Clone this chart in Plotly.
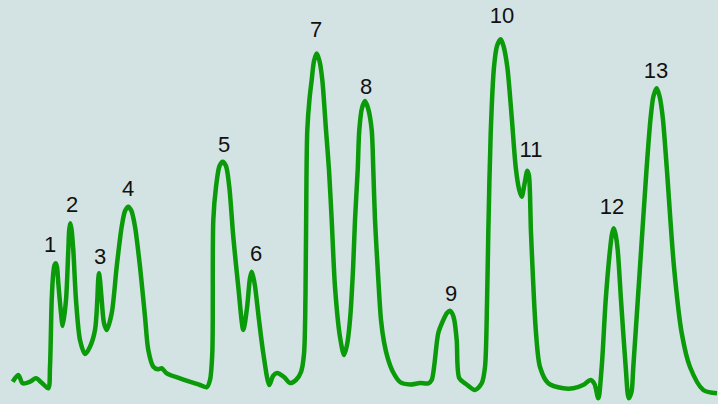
import plotly.graph_objects as go

# Chromatogram trace (retention position, detector signal)
time = [12.7, 18.3, 22.7, 30, 36, 41.7, 48.3, 50, 51.7, 53.3, 54.5, 55.7, 57, 58.3, 60.7, 62.7,
        66, 68.3, 69.3, 70.3, 71.5, 73.3, 76, 80, 85, 90, 95, 97.3, 98.2, 99, 100, 101.7, 104, 106.7,
        111.7, 116.7, 121.7, 125, 128.3, 131.5, 135, 140, 145, 148.3, 153.3, 158.3, 161.7, 166.7, 180, 200, 206.7, 210,
        212.3, 213.3, 216, 219.5, 222.7, 226, 229.3, 233.3, 238.3, 243.3, 247, 250, 251.7, 253.5, 255, 259, 263.3, 269.3,
        273, 277, 284, 290, 296, 301, 304, 305.5, 306.5, 307.3, 309.5, 311.7, 314, 316.7, 319.5, 322.3,
        326, 329, 331.7, 335, 340, 344, 347, 350, 353, 355, 357.7, 359.3, 362, 365, 368, 371.7,
        373.3, 375, 378, 381, 384, 388, 393, 400, 410, 420, 428.3,
        431.7, 438.3, 443.3, 447, 450, 452.5, 454.3, 456.7, 459.3, 466, 475, 481.7, 485, 487, 488.3, 490.7, 494,
        497, 500.7, 503.5, 507.3, 511.7, 515.7, 519, 521.7, 524.5, 527.3, 529, 531, 536, 540, 548.3, 563.3, 573.3, 583, 590.7, 594.5, 598.3,
        601.7, 605.7, 610, 612, 613.7, 615.5, 617.7, 621, 625.7, 628.7, 631.5,
        633.3, 640, 646.7, 650.7, 653.5, 656.7, 659.5, 662.7, 666.7, 674, 681.7, 690, 703.3, 717]
signal = [22.3, 29, 20.7, 22.3, 25.7, 21.3, 15.7, 37.3, 104, 131, 139, 140.7, 137, 121, 94, 78,
          104, 154, 175, 180.7, 175, 154, 104, 64, 50, 57.3, 74, 104, 124, 130.7, 124, 104, 80.7, 74,
          90.7, 137.3, 177.3, 193, 197.3, 193, 177.3, 137.3, 87.3, 54, 37.3, 34.7, 35.7, 30.7, 25.7, 19, 16.7, 24,
          51, 184, 217, 238, 242.3, 238, 217, 167, 117, 74, 96, 126, 132.3, 126, 118, 84, 50.7, 19,
          28, 31, 27, 21, 24, 32, 50, 110, 230, 274, 305, 324, 343, 350.5, 343, 324,
          274, 234, 184, 117, 67, 49, 59, 84, 134, 184, 234, 274, 296, 303, 296, 274,
          234, 184, 130, 84, 62, 45, 32, 22, 19.5, 21, 20.7,
          24, 71, 84, 91, 93.3, 90, 84, 64, 25.7, 20, 14, 20.7, 37, 100, 171, 271, 337,
          358, 364.7, 358, 337, 287, 237, 215, 207.3, 220, 233.3, 228, 171, 71, 37, 20.7, 15.7, 15.7, 19, 24, 20, 5.7,
          37, 104, 154, 170, 175.7, 170, 154, 104, 37, 5.7, 12,
          37, 137, 237, 287, 308, 315.7, 308, 287, 237, 137, 71, 37, 14, 10.7]

peak_labels = ["1", "2", "3", "4", "5", "6", "7", "8", "9", "10", "11", "12", "13"]
label_time = [50, 72, 100, 128, 224, 256, 316, 366, 451, 502, 531, 612, 656]
label_signal = [158, 198, 146, 214, 258, 149, 373, 316, 109, 387, 253, 196, 332]

fig = go.Figure()
fig.add_trace(go.Scatter(
    x=time, y=signal, mode="lines",
    line=dict(color="#0a9a0a", width=4.5, shape="spline", smoothing=0.8),
    hoverinfo="skip", showlegend=False,
))
fig.add_trace(go.Scatter(
    x=label_time, y=label_signal, mode="text", text=peak_labels,
    textfont=dict(family="Liberation Sans, Arial, sans-serif", size=22, color="#111111"),
    hoverinfo="skip", showlegend=False,
))

fig.update_layout(
    width=718, height=404,
    margin=dict(l=0, r=0, t=0, b=0),
    paper_bgcolor="#d3e3e3",
    plot_bgcolor="#d3e3e3",
    xaxis=dict(range=[0, 718], visible=False, fixedrange=True),
    yaxis=dict(range=[0, 404], visible=False, fixedrange=True),
)

fig.write_html(
    "out.html",
    config={"displayModeBar": False},
    post_script="document.body.style.margin='0';document.body.style.overflow='hidden';",
)
